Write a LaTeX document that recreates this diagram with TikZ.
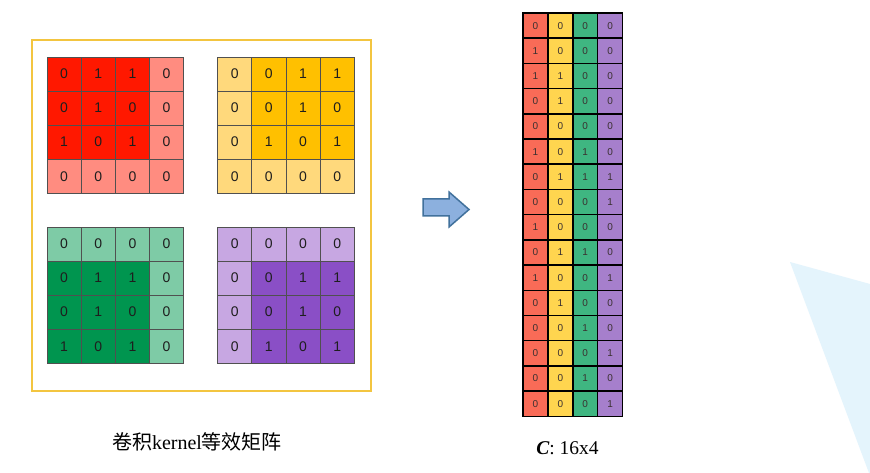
\documentclass[tikz,border=0pt]{standalone}
\usepackage{fontspec}
\setmainfont{Liberation Serif}
\setsansfont{Liberation Sans}
\newfontfamily\cjk{Noto Sans CJK SC}
\definecolor{gridline}{HTML}{505050}
\definecolor{digit}{HTML}{1E1E1E}
\definecolor{cdigit}{HTML}{3A3030}
\definecolor{rdark}{HTML}{FF1800}
\definecolor{rlight}{HTML}{FF8C80}
\definecolor{ydark}{HTML}{FFC000}
\definecolor{ylight}{HTML}{FFD97C}
\definecolor{gdark}{HTML}{00954F}
\definecolor{glight}{HTML}{7ECBA6}
\definecolor{pdark}{HTML}{8A4FC6}
\definecolor{plight}{HTML}{C7A7E2}
\definecolor{cred}{HTML}{F96B57}
\definecolor{cyel}{HTML}{FFD54F}
\definecolor{cgrn}{HTML}{3FB681}
\definecolor{cpur}{HTML}{A67FCC}
\definecolor{framecol}{HTML}{F3C540}
\definecolor{arrowfill}{HTML}{8CB0DE}
\definecolor{arrowdraw}{HTML}{41719C}
\definecolor{bgblue}{HTML}{E4F4FC}
\newcommand\kgrid[8]{%
  \foreach \v [count=\k from 0] in {#8} {
    \pgfmathtruncatemacro\rr{div(\k,4)}
    \pgfmathtruncatemacro\cc{mod(\k,4)}
    \pgfmathtruncatemacro\isd{(\rr>=#6)&&(\rr<=#6+2)&&(\cc>=#7)&&(\cc<=#7+2)}
    \ifnum\isd=1 \def\fc{#4}\else\def\fc{#5}\fi
    \node[kcell, fill=\fc] (#1-\rr-\cc) at (#2+\cc*34.15, #3+\rr*34.05) {\v};
  }
}
\begin{document}
\begin{tikzpicture}[x=1pt,y=-1pt,
  kcell/.style={draw=gridline, line width=0.7pt, minimum width=34.15pt, minimum height=34.05pt,
    inner sep=0pt, anchor=north west, font=\sffamily\fontsize{14}{14}\selectfont, text=digit},
  ccell/.style={draw=black, line width=1.5pt, minimum width=24.85pt, minimum height=25.2pt,
    inner sep=0pt, anchor=north west, font=\sffamily\fontsize{10}{10}\selectfont, text=cdigit},
  label/.style={inner sep=0pt, text=black}]
\useasboundingbox[fill=white] (0,0) rectangle (870,473);
% background decoration
\fill[bgblue] (790,262) -- (870,284) -- (870,473) -- (869,473) -- cycle;
% frame
\node[draw=framecol, line width=1.8pt, minimum width=339pt, minimum height=351pt,
  inner sep=0pt, anchor=north west] (frame) at (31,39) {};
% kernels
\kgrid{R}{46.7}{56.7}{rdark}{rlight}{0}{0}{0,1,1,0, 0,1,0,0, 1,0,1,0, 0,0,0,0}
\kgrid{Y}{217.3}{56.7}{ydark}{ylight}{0}{1}{0,0,1,1, 0,0,1,0, 0,1,0,1, 0,0,0,0}
\kgrid{G}{46.7}{226.7}{gdark}{glight}{1}{0}{0,0,0,0, 0,1,1,0, 0,1,0,0, 1,0,1,0}
\kgrid{P}{217.3}{226.7}{pdark}{plight}{1}{1}{0,0,0,0, 0,0,1,1, 0,0,1,0, 0,1,0,1}
% arrow
\filldraw[fill=arrowfill, draw=arrowdraw, line width=1.5pt, line join=miter]
  (423,199) -- (449,199) -- (449,192) -- (469,209.5) -- (449,227) -- (449,216) -- (423,216) -- cycle;
% matrix C
\foreach \v [count=\k from 0] in {0,0,0,0, 1,0,0,0, 1,1,0,0, 0,1,0,0, 0,0,0,0, 1,0,1,0, 0,1,1,1, 0,0,0,1,
                                  1,0,0,0, 0,1,1,0, 1,0,0,1, 0,1,0,0, 0,0,1,0, 0,0,0,1, 0,0,1,0, 0,0,0,1} {
  \pgfmathtruncatemacro\rr{div(\k,4)}
  \pgfmathtruncatemacro\cc{mod(\k,4)}
  \ifcase\cc \def\fc{cred}\or\def\fc{cyel}\or\def\fc{cgrn}\or\def\fc{cpur}\fi
  \node[ccell, fill=\fc] (C-\rr-\cc) at (522.3+\cc*24.85, 12.3+\rr*25.2) {\v};
}
% labels
\node[label, font=\fontsize{20}{20}\selectfont] (lblk) at (197,442) {{\cjk 卷积}kernel{\cjk 等效矩阵}};
\node[label, font=\fontsize{19.5}{19.5}\selectfont] (lblc) at (567.5,448) {\textbf{\textit{C}}: 16x4};
\end{tikzpicture}
\end{document}
